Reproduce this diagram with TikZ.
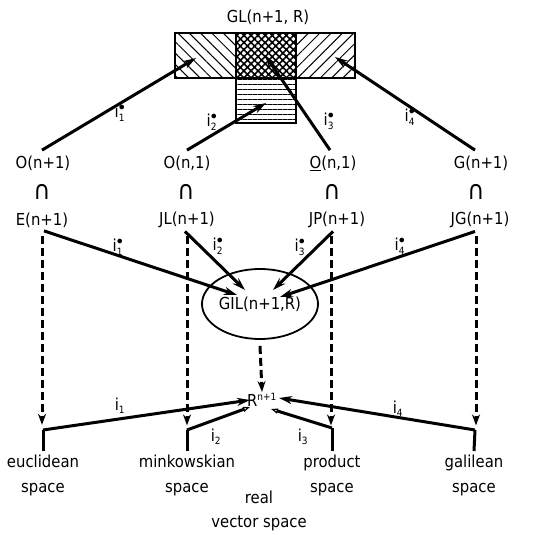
\documentclass[tikz,border=0pt]{standalone}
\usepackage{fontspec}
\setmainfont{DejaVu Sans Condensed}
\newfontfamily\capfont{DejaVu Sans ExtraLight}
\usetikzlibrary{patterns.meta,arrows.meta,shapes.geometric}
\newcommand\istr[1]{i$^{\bullet}_{\mbox{\fontsize{10}{10}\selectfont #1}}$}
\newcommand\isub[1]{i$_{\mbox{\fontsize{10}{10}\selectfont #1}}$}
\begin{document}
\begin{tikzpicture}[x=1pt,y=-1pt,font=\fontsize{16.5}{25}\selectfont,
 lbl/.style={inner sep=1pt},
 capsym/.style={inner sep=0pt,font=\fontsize{26}{26}\selectfont},
 box/.style={draw,line width=1.4pt,inner sep=0pt},
 arr/.style={line width=3pt,-{Stealth[length=13pt,width=8pt]}},
 dsh/.style={line width=3pt,dash pattern=on 8pt off 4pt,-{Stealth[length=11pt,width=8pt]}},
 plain/.style={line width=3pt},
 openarr/.style={line width=3pt,-{Triangle[open,length=7pt,width=5pt,line width=1.2pt]}}]
\useasboundingbox (0,0) rectangle (538,534);
% top group
\node (gltitle) at (268,17) {GL(n+1, R)};
\node[box,minimum width=61pt,minimum height=45pt,pattern={Lines[angle=-45,distance=8pt,line width=1pt]}] (gla) at (205.5,55.5) {};
\node[box,minimum width=59pt,minimum height=45pt,pattern={Lines[angle=45,distance=8pt,line width=1pt]}] (gld) at (325.5,55.5) {};
\node[box,minimum width=60pt,minimum height=45pt,pattern={Hatch[angle=45,distance=5pt,line width=1.6pt]}] (glc) at (266,55.5) {};
\node[box,minimum width=60pt,minimum height=45pt,pattern={Lines[angle=0,distance=5pt,line width=0.8pt]}] (glb) at (266,100.5) {};
\coordinate (ta) at (196,58);
\coordinate (tb) at (266,103);
\coordinate (tc) at (265,55);
\coordinate (td) at (335,57);
% row 1
\node (o1) at (43,163) {O(n+1)};
\node (o2) at (187,163) {O(n,1)};
\node (o3) at (333,163) {\underline{O}(n,1)};
\node (o4) at (481,163) {G(n+1)};
\node[capsym] (k1) at (42,192) {∩};
\node[capsym] (k2) at (186,192) {∩};
\node[capsym] (k3) at (332,192) {∩};
\node[capsym] (k4) at (476,192) {∩};
\node (e1) at (42,220) {E(n+1)};
\node (e2) at (187,220) {JL(n+1)};
\node (e3) at (337,220) {JP(n+1)};
\node (e4) at (480,220) {JG(n+1)};
% arrows to GL
\draw[arr] ([xshift=-1pt]o1.north) ++(0,-2) -- (ta);
\draw[arr] (o2.north) ++(0,-2) -- (tb);
\draw[arr] ([xshift=-3pt]o3.north) ++(0,-2) -- (tc);
\draw[arr] ([xshift=-6pt]o4.north) ++(0,-2) -- (td);
\node[lbl] at (120,113) {\istr{1}};
\node[lbl] at (212,122) {\istr{2}};
\node[lbl] at (329,121) {\istr{3}};
\node[lbl] at (410,117) {\istr{4}};
% ellipse
\node[draw,ellipse,line width=1.8pt,minimum width=104pt,minimum height=70pt,inner sep=0pt] (gil) at (260,304) {GIL(n+1,R)};
\draw[arr] ([xshift=2pt]e1.south) -- (237,295);
\draw[arr] ([xshift=-2pt]e2.south) -- (245,290);
\draw[arr] ([xshift=-4pt]e3.south) -- (273,290);
\draw[arr] ([xshift=-5pt]e4.south) -- (280,297);
\node[lbl] at (118,247) {\istr{1}};
\node[lbl] at (218,246) {\istr{2}};
\node[lbl] at (300,247) {\istr{3}};
\node[lbl] at (400,246) {\istr{4}};
% R^{n+1}
\node[inner sep=1pt] (r) at (262,400) {R\textsuperscript{\fontsize{10}{10}\selectfont n+1}};
\draw[dsh] (gil.south) ++(0,6) -- (r.north);
% space labels
\node[align=center] (s1) at (43,475) {euclidean\\space};
\node[align=center] (s2) at (187,475) {minkowskian\\space};
\node[align=center] (s3) at (332,475) {product\\space};
\node[align=center] (s4) at (474,475) {galilean\\space};
\node[align=center,font=\fontsize{16.5}{24}\selectfont] (s5) at (259,511) {real\\vector space};
\coordinate (c1) at (43,430);
\coordinate (c2) at (187,430);
\coordinate (c3) at (332,428);
\coordinate (c4) at (475,430);
% dashed verticals
\draw[dsh] (e1.south) ++(0,5) -- ++(0,189);
\draw[dsh] (e2.south) ++(0,5) -- ++(0,189);
\draw[dsh] ([xshift=-6pt]e3.south) ++(0,5) -- ++(0,189);
\draw[dsh] ([xshift=-4pt]e4.south) ++(0,5) -- ++(0,189);
% brackets
\draw[plain] (s1.north) -- (c1);
\draw[plain] (s2.north) -- (c2);
\draw[plain] (s3.north) -- (c3);
\draw[plain] (s4.north) -- (c4);
\draw[arr] (c1) -- (250,400);
\draw[openarr] (c2) -- (250,407);
\draw[openarr] (c3) -- (271,409);
\draw[arr] (c4) -- (279,398);
\node[lbl] at (120,406) {\isub{1}};
\node[lbl] at (216,437) {\isub{2}};
\node[lbl] at (303,437) {\isub{3}};
\node[lbl] at (398,409) {\isub{4}};
\end{tikzpicture}
\end{document}
